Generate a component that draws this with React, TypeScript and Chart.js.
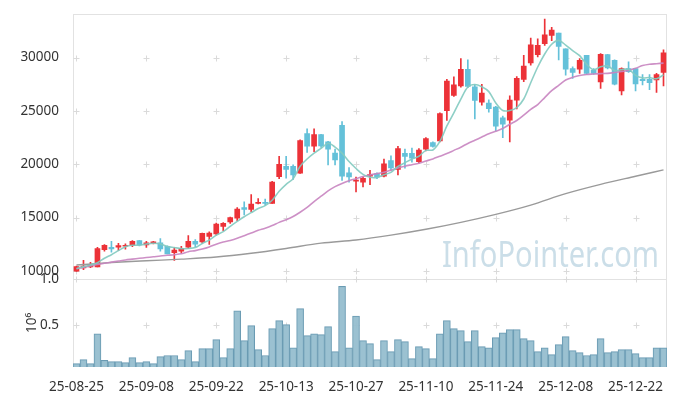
import React, { useEffect, useRef } from "react";
import { Chart, registerables } from "chart.js";

Chart.register(...registerables);

const dates = [
  "25-08-25", "25-08-26", "25-08-27", "25-08-28", "25-08-29",
  "25-09-01", "25-09-02", "25-09-03", "25-09-04", "25-09-05",
  "25-09-08", "25-09-09", "25-09-10", "25-09-11", "25-09-12",
  "25-09-15", "25-09-16", "25-09-17", "25-09-18", "25-09-19",
  "25-09-22", "25-09-23", "25-09-24", "25-09-25", "25-09-26",
  "25-09-29", "25-09-30", "25-10-01", "25-10-02", "25-10-10",
  "25-10-13", "25-10-14", "25-10-15", "25-10-16", "25-10-17",
  "25-10-20", "25-10-21", "25-10-22", "25-10-23", "25-10-24",
  "25-10-27", "25-10-28", "25-10-29", "25-10-30", "25-10-31",
  "25-11-03", "25-11-04", "25-11-05", "25-11-06", "25-11-07",
  "25-11-10", "25-11-11", "25-11-12", "25-11-13", "25-11-14",
  "25-11-17", "25-11-18", "25-11-19", "25-11-20", "25-11-21",
  "25-11-24", "25-11-25", "25-11-26", "25-11-27", "25-11-28",
  "25-12-01", "25-12-02", "25-12-03", "25-12-04", "25-12-05",
  "25-12-08", "25-12-09", "25-12-10", "25-12-11", "25-12-12",
  "25-12-15", "25-12-16", "25-12-17", "25-12-18", "25-12-19",
  "25-12-22", "25-12-23", "25-12-24", "25-12-26", "25-12-29",
];

const dateTicks = ["25-08-25", "25-09-08", "25-09-22", "25-10-13", "25-10-27", "25-11-10", "25-11-24", "25-12-08", "25-12-22"];

const opens = [
  9980, 10280, 10370, 10370, 12000, 12220, 12220, 12310, 12380, 12840,
  12440, 12590, 12620, 12310, 11700, 11850, 12220, 12780, 12720, 13240,
  13460, 14170, 14600, 14940, 15930, 15770, 16330, 16420, 16330, 18830,
  19810, 19810, 19170, 22870, 21700, 22780, 22100, 21050, 23640, 19200,
  18420, 18330, 18890, 19130, 18890, 20340, 19510, 21020, 21020, 20250,
  21420, 22040, 22190, 25030, 26450, 27350, 28890, 27250, 25820, 25740,
  25370, 24350, 24130, 26000, 27960, 29510, 30280, 31300, 32070, 32310,
  30830, 28980, 28920, 30210, 28830, 27710, 30280, 29750, 26880, 28980,
  28980, 27960, 27960, 27900, 28610,
];
const highs = [
  10450, 10990, 10800, 12220, 12470, 12780, 12590, 12530, 12840, 12870,
  12780, 12780, 13030, 12350, 12190, 12310, 13300, 12930, 13540, 13670,
  14480, 14540, 15050, 15930, 16480, 17160, 16790, 16730, 18400, 20740,
  20740, 19940, 22290, 23330, 23330, 22800, 22150, 21420, 24010, 19690,
  18800, 18800, 19440, 19200, 20490, 20800, 21670, 21420, 21510, 21480,
  22500, 22100, 24810, 27960, 28200, 29910, 29780, 27440, 27500, 26050,
  25430, 24510, 26420, 28210, 30210, 31820, 31760, 33610, 32840, 32310,
  30830, 29140, 29900, 30210, 28980, 30370, 30300, 29800, 29050, 29600,
  28980, 28420, 28420, 28520, 30740,
];
const lows = [
  9950, 10120, 10300, 10370, 11850, 11760, 11920, 12040, 12280, 12340,
  12190, 12530, 11850, 11580, 10990, 11670, 12100, 12280, 12590, 12470,
  13360, 13770, 14450, 14700, 15250, 15560, 16270, 16170, 16330, 18640,
  18700, 18580, 19130, 21110, 21170, 21570, 19940, 19940, 18490, 18330,
  17410, 17870, 18090, 18650, 18800, 19410, 19010, 19630, 20190, 20090,
  21250, 21600, 22100, 24100, 26360, 27220, 27190, 24260, 25530, 24880,
  23120, 22500, 22100, 25190, 27750, 29290, 30060, 31140, 31600, 29780,
  28360, 28050, 28520, 28430, 28430, 27100, 28950, 27450, 26510, 28600,
  26880, 27450, 26990, 26730, 27350,
];
const closes = [
  10400, 10460, 10580, 12100, 12400, 12070, 12370, 12400, 12780, 12440,
  12620, 12720, 12070, 11600, 11940, 12120, 12780, 12500, 13520, 13550,
  14380, 14470, 15000, 15800, 15770, 16270, 16420, 16330, 18330, 20000,
  19510, 19010, 22220, 21700, 22780, 21730, 21420, 20400, 18890, 18800,
  18490, 18670, 19040, 18800, 20030, 19660, 21480, 20740, 20560, 21330,
  22410, 21670, 24750, 27810, 27440, 28890, 27290, 25990, 26670, 25200,
  23580, 23750, 26010, 28050, 29200, 31200, 31140, 32130, 32590, 31050,
  28920, 28610, 29750, 28520, 28520, 30300, 29040, 27500, 28980, 28670,
  27530, 27840, 27650, 28420, 30440,
];

const ma5 = [
  10210, 10400, 10550, 10770, 11190, 11520, 11900, 12270, 12400, 12410,
  12520, 12590, 12530, 12290, 12190, 12090, 12100, 12190, 12570, 12890,
  13350, 13680, 14180, 14640, 15080, 15460, 15850, 16120, 16620, 17470,
  18120, 18640, 19810, 20490, 21040, 21490, 21970, 21610, 21040, 20250,
  19600, 19050, 18780, 18760, 19010, 19240, 19800, 20140, 20490, 20750,
  21300, 21340, 22140, 23590, 24820, 26110, 27240, 27480, 27260, 26810,
  25750, 25040, 25040, 25320, 26120, 27640, 29120, 30340, 31250, 31620,
  31170, 30660, 30180, 29370, 28860, 29140, 29230, 28780, 28870, 28900,
  28340, 28100, 28130, 28020, 28380,
];
const ma20 = [
  10210, 10330, 10450, 10600, 10720, 10820, 10920, 11020, 11100, 11180,
  11250, 11320, 11400, 11460, 11520, 11600, 11800, 11900, 12050, 12250,
  12500, 12700, 12850, 13050, 13300, 13550, 13800, 14000, 14250, 14550,
  14800, 15100, 15500, 15950, 16500, 17000, 17500, 17900, 18200, 18450,
  18650, 18850, 19000, 19120, 19250, 19450, 19650, 19820, 19960, 20100,
  20300, 20500, 20750, 21000, 21300, 21600, 21950, 22250, 22550, 22850,
  23100, 23350, 23750, 24100, 24600, 25150, 25600, 26250, 26900, 27400,
  27900, 28150, 28330, 28420, 28460, 28500, 28520, 28600, 28700, 28800,
  29000, 29250, 29380, 29430, 29480,
];
const ma120Days = ["25-08-25", "25-09-01", "25-09-08", "25-09-15", "25-09-22", "25-09-29", "25-10-13", "25-10-20", "25-10-27", "25-11-03", "25-11-10", "25-11-17", "25-11-24", "25-12-01", "25-12-08", "25-12-15", "25-12-22", "25-12-29"];
const ma120 = [10550, 10780, 10950, 11100, 11300, 11650, 12100, 12600, 12900, 13350, 13900, 14550, 15300, 16170, 17240, 18110, 18870, 19470];

const volumes = [
  90000, 133000, 90000, 410000, 125000, 111000, 111000, 100000, 154000, 100000,
  111000, 90000, 165000, 176000, 176000, 133000, 229000, 111000, 250000, 250000,
  347000, 154000, 250000, 657000, 336000, 497000, 240000, 176000, 465000, 550000,
  507000, 260000, 679000, 390000, 410000, 400000, 486000, 218000, 918000, 260000,
  600000, 336000, 304000, 133000, 336000, 218000, 347000, 325000, 143000, 272000,
  250000, 143000, 410000, 550000, 465000, 443000, 325000, 443000, 272000, 260000,
  368000, 420000, 454000, 454000, 357000, 336000, 218000, 260000, 186000, 293000,
  379000, 229000, 208000, 176000, 186000, 357000, 208000, 218000, 240000, 240000,
  197000, 154000, 154000, 260000, 260000,
];

const priceTicks = [10000, 15000, 20000, 25000, 30000];
const volumeTicks = [500000, 1000000];

const UP = "#ec3238";
const DOWN = "#64c1d9";
const FONT = { family: "'Noto Sans', sans-serif", size: 13.5 };
const TEXT = "#333333";

const decor = {
  id: "decor",
  beforeDatasetsDraw(chart: any) {
    const { ctx, chartArea, scales } = chart;
    const xs = scales.x, ys = scales.y, vs = scales.y2;
    ctx.save();
    const wm = "InfoPointer.com";
    ctx.font = "36px 'Noto Sans'";
    const w = ctx.measureText(wm).width;
    const targetW = 217;
    ctx.fillStyle = "rgba(186, 211, 224, 0.75)";
    ctx.translate(chartArea.right - 8 - targetW, ys.bottom - 11.5);
    ctx.scale(targetW / w, 1);
    ctx.textBaseline = "alphabetic";
    ctx.fillText(wm, 0, 0);
    ctx.restore();

    ctx.save();
    ctx.strokeStyle = "#e2e2e2";
    ctx.lineWidth = 1;
    const l = Math.round(chartArea.left) + 0.5;
    const r = Math.round(chartArea.right) - 0.5;
    ctx.strokeRect(l, Math.round(ys.top) + 0.5, r - l, Math.round(ys.bottom) - Math.round(ys.top));
    ctx.strokeRect(l, Math.round(vs.top) + 0.5, r - l, Math.round(vs.bottom) - Math.round(vs.top) - 1);
    ctx.strokeStyle = "#dadada";
    const cross = (px: number, py: number) => {
      const x = Math.round(px) + 0.5, y = Math.round(py) + 0.5;
      ctx.beginPath();
      ctx.moveTo(x - 3, y); ctx.lineTo(x + 3, y);
      ctx.moveTo(x, y - 3); ctx.lineTo(x, y + 3);
      ctx.stroke();
    };
    dateTicks.forEach((d) => {
      const px = xs.getPixelForValue(dates.indexOf(d));
      priceTicks.forEach((v) => cross(px, ys.getPixelForValue(v)));
      volumeTicks.forEach((v) => cross(px, vs.getPixelForValue(v)));
    });
    ctx.restore();
  },
};

export default function App() {
  const ref = useRef<HTMLCanvasElement | null>(null);
  useEffect(() => {
    if (!ref.current) return;
    const candleColor = closes.map((c, i) => (c >= opens[i] ? UP : DOWN));
    const chart = new Chart(ref.current, {
      type: "bar",
      data: {
        labels: dates,
        datasets: [
          {
            type: "line",
            label: "MA5",
            data: ma5,
            yAxisID: "y",
            borderColor: "rgba(130, 202, 192, 0.9)",
            borderWidth: 1.6,
            pointRadius: 0,
            tension: 0.3,
            order: 0,
          } as any,
          {
            type: "line",
            label: "MA20",
            data: ma20,
            yAxisID: "y",
            borderColor: "rgba(200, 132, 192, 0.9)",
            borderWidth: 1.6,
            pointRadius: 0,
            tension: 0.3,
            order: 0,
          } as any,
          {
            type: "line",
            label: "MA120",
            data: ma120Days.map((d, k) => ({ x: d, y: ma120[k] })),
            yAxisID: "y",
            borderColor: "#9a9a9a",
            borderWidth: 1.4,
            pointRadius: 0,
            cubicInterpolationMode: "monotone",
            order: 0,
          } as any,
          {
            label: "wick",
            data: lows.map((l, i) => [l, highs[i]]),
            yAxisID: "y",
            backgroundColor: candleColor,
            barThickness: 1,
            grouped: false,
            order: 2,
          } as any,
          {
            label: "body",
            data: opens.map((o, i) => [o, closes[i]]),
            yAxisID: "y",
            backgroundColor: candleColor,
            barThickness: 5,
            minBarLength: 1,
            grouped: false,
            order: 1,
          } as any,
          {
            label: "volume",
            data: volumes,
            yAxisID: "y2",
            backgroundColor: "rgba(150, 190, 207, 0.95)",
            borderColor: "#6a9bb3",
            borderWidth: 1,
            barPercentage: 1,
            categoryPercentage: 1,
            grouped: false,
            order: 3,
          } as any,
        ],
      },
      options: {
        animation: false,
        responsive: false,
        devicePixelRatio: 1,
        layout: { padding: { top: 10, right: 10, left: 0, bottom: 0 } },
        plugins: { legend: { display: false }, tooltip: { enabled: false } },
        scales: {
          x: {
            type: "category",
            offset: true,
            grid: { display: false },
            border: { display: false },
            ticks: {
              autoSkip: false,
              maxRotation: 0,
              minRotation: 0,
              padding: 4,
              color: TEXT,
              font: FONT,
              callback: (_v: any, i: number) => (dateTicks.includes(dates[i]) ? dates[i] : null),
            },
            afterFit: (s: any) => { s.height = 29; },
          },
          y2: {
            type: "linear",
            position: "left",
            stack: "pane",
            stackWeight: 1,
            min: 53000,
            max: 1000000,
            grid: { display: false },
            border: { display: false },
            afterBuildTicks: (s: any) => { s.ticks = volumeTicks.map((v) => ({ value: v })); },
            ticks: { padding: 6, color: TEXT, font: FONT, callback: (v: any) => (Number(v) / 1e6).toFixed(1) },
            title: { display: true, text: "10⁶", color: TEXT, font: FONT, padding: { top: 24, bottom: 0 } },
            afterFit: (s: any) => { s.width = 73; },
          },
          y: {
            type: "linear",
            position: "left",
            stack: "pane",
            stackWeight: 3,
            min: 9260,
            max: 34080,
            grid: { display: false },
            border: { display: false },
            afterBuildTicks: (s: any) => { s.ticks = priceTicks.map((v) => ({ value: v })); },
            ticks: { padding: 6, color: TEXT, font: FONT, callback: (v: any) => String(v) },
            afterFit: (s: any) => { s.width = 73; },
          },
        },
      } as any,
      plugins: [decor],
    });
    return () => chart.destroy();
  }, []);

  return (
    <div style={{ position: "fixed", left: 0, top: 0, width: 677, height: 396, background: "#fff" }}>
      <canvas ref={ref} width={677} height={396} style={{ display: "block", width: 677, height: 396 }} />
    </div>
  );
}
